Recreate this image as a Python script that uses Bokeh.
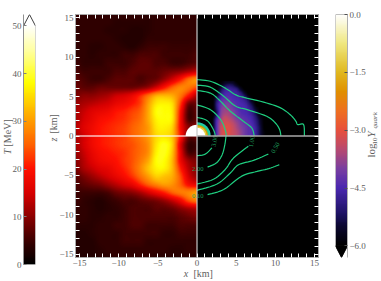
import numpy as np
from bokeh.plotting import figure
from bokeh.layouts import row
from bokeh.models import LinearAxis, FixedTicker, LinearColorMapper, Range1d
from bokeh.core.properties import value
from bokeh.embed import file_html
from bokeh.resources import INLINE

# temperature [MeV], rows y=15..-15, columns x=-15..0 (1 km step)
T_rows = [
 [4,4,4,4,4,4,4,4,4,3.5,4,4,4,4,4,4],
 [4,4,4,4,4,3.5,3.5,3.5,3.5,3.5,4,4,4,4,4,4],
 [4,4,4,4,3.5,3.5,3.5,3,3,3.5,4,4,4,4,4,4],
 [4,4,4,4,4,3.5,3,3,3,4,4,4,4,4,4,4.5],
 [4,4,3.5,3.5,4,4,3.5,3,4,5,5,5,4.5,4.5,4.5,5],
 [4,4,3.5,4,4,4,5,5,6,6,6,5,5,5,5,6],
 [5,4,4,4,5,5,5,6,7,7,6,6,5,5,6,7],
 [6,5,5,5,5,6,6,7,7,7,7,8,9,10,12,14],
 [7,6,5,5,6,7,7,7,6,7,8,11,15,20,26,29],
 [8,7,7,8,8,8,8,8,9,11,15,20,25,28,27,24],
 [9,10,10,11,12,14,15,17,21,26,31,32,31,27,20,13],
 [11,12,13,14,15,17,18,20,23,30,36,37,35,23,9,8],
 [12,14,16,17,18,20,21,23,25,31,38,38,36,20,6,7],
 [12,15,17,19,20,21,22,24,26,31,37,38,36,19,6,7],
 [13,16,18,20,21,22,23,25,27,30,36,37,34,19,10,10],
 [12,15,18,20,21,22,23,25,27,30,35,36,33,20,8,8],
 [12,15,18,20,21,22,23,24,26,29,36,39,34,16,5,5],
 [11,14,17,19,20,21,22,24,26,29,37,39,33,17,6,6],
 [10,13,16,18,19,20,22,24,27,31,38,38,32,18,11,9],
 [9,12,14,16,17,19,21,24,28,33,37,37,32,21,13,10],
 [7,9,11,13,15,17,19,22,26,30,34,33,31,24,15,11],
 [6,7,8,9,11,13,15,17,21,25,28,30,29,25,19,17],
 [5,5,5,5,6,8,9,10,12,15,18,21,25,27,28,30],
 [5,4,3.5,3,4,5,6,6,7,8,9,11,14,18,24,27],
 [4,4,3.5,3,3.5,4,5,6,6,6,7,7,8,10,12,13],
 [4,4,3.5,3.5,4,4,5,6,6,6,6,6,6,7,8,9],
 [3.5,3.5,3.5,4,4,5,5,6,6,5,5,5,5,6,6,6],
 [3,3,3.5,4,4,4,5,5,5,5,5,4,4,5,5,5],
 [3,3,3,4,4,4,5,5,5,4,4,4,4,4,4,4],
 [3,3,3,3.5,4,4,4,4,4,4,4,4,3.5,3.5,4,4],
 [3,3,3,3.5,3.5,4,4,4,4,4,3.5,3.5,3.5,3.5,3.5,3.5],
]
# log10 Y_quark, rows y=7..0 (0.5 km), columns x=2..9.5 (0.5 km)
Y_rows = [
 [-6,-6,-6,-5.8,-5.8,-5.8,-6,-6,-6,-6,-6,-6,-6,-6,-6,-6],
 [-6,-6,-5.8,-5.4,-5.2,-5.3,-5.7,-6,-6,-6,-6,-6,-6,-6,-6,-6],
 [-6,-6,-5.4,-4.8,-4.7,-4.8,-5.0,-5.6,-6,-6,-6,-6,-6,-6,-6,-6],
 [-6,-5.9,-5.0,-4.6,-4.5,-4.6,-4.7,-5.0,-5.6,-6,-6,-6,-6,-6,-6,-6],
 [-6,-5.5,-4.7,-4.4,-4.4,-4.5,-4.6,-4.7,-5.1,-5.7,-6,-6,-6,-6,-6,-6],
 [-6,-5.1,-4.4,-4.2,-4.2,-4.4,-4.5,-4.6,-4.8,-5.2,-5.8,-6,-6,-6,-6,-6],
 [-6,-4.9,-4.2,-4.0,-4.0,-4.2,-4.4,-4.5,-4.6,-4.9,-5.4,-6,-6,-6,-6,-6],
 [-6,-5,-4.1,-3.8,-3.9,-4.1,-4.3,-4.5,-4.5,-4.7,-5.1,-5.7,-6,-6,-6,-6],
 [-6,-5.2,-4,-3.7,-3.7,-3.9,-4.2,-4.4,-4.5,-4.6,-4.9,-5.4,-6,-6,-6,-6],
 [-6,-4.9,-3.9,-3.5,-3.6,-3.8,-4.1,-4.3,-4.4,-4.5,-4.7,-5.2,-5.8,-6,-6,-6],
 [-5.7,-4.5,-3.7,-3.3,-3.4,-3.6,-3.9,-4.1,-4.3,-4.4,-4.6,-5,-5.6,-6,-6,-6],
 [-5.7,-4.4,-3.5,-3.2,-3.2,-3.4,-3.7,-4,-4.2,-4.3,-4.5,-4.9,-5.5,-6,-6,-6],
 [-5.7,-4.4,-3.4,-3.1,-3.1,-3.3,-3.6,-3.9,-4.1,-4.3,-4.4,-4.8,-5.4,-6,-6,-6],
 [-5.8,-4.4,-3.4,-3.1,-3.1,-3.3,-3.5,-3.8,-4.1,-4.3,-4.4,-4.8,-5.4,-5.9,-6,-6],
 [-5.8,-4.4,-3.4,-3.1,-3.1,-3.3,-3.5,-3.8,-4.1,-4.3,-4.4,-4.8,-5.4,-5.9,-6,-6],
]
T_stops = [0, 5, 10, 15, 20, 25, 30, 38, 44, 50]
T_cols = ["#000000", "#3c0000", "#8c0000", "#d80000", "#ff1000", "#ff6000", "#ff9c00", "#ffff00", "#ffff90", "#ffffff"]
Y_stops = [-6, -5.5, -5.2, -4.5, -4, -3.5, -3, -2.5, -2, -1.5, -0.75, 0]
Y_cols = ["#000000", "#0c0830", "#1c1260", "#4a28b0", "#7a3fa0", "#b84a70", "#e8503c", "#ee7020", "#e09000", "#e0b820", "#f0e880", "#ffffff"]

core_left_r = [1.45]
core_right_r = [1.75, 1.55, 1.4, 1.25, 1.05]
core_right_c = ["#22c8b0", "#20d080", "#e09000", "#e0d040", "#ffffff"]

c_010_up = ([0,1.7,3.4,4.9,6,8.5,10.6,11.9,12.6,12.85,13.6,13.7], [7.16,6.95,6.2,5.25,4.9,4.3,3.6,2.7,1.9,1.45,1.45,0])
c_050_up = ([0,1.7,3.4,4.9,6.4,8.9,10,10.55,10.7], [6.45,6.2,5.05,3.8,3.35,2.5,1.65,.8,0])
c_100_up = ([0,1.7,2.8,4.25,5.95,7,7.3], [5.8,5.45,4.6,3.15,1.85,1,0])
c_200_up = ([0,1.7,3,3.6,3.75], [3.95,3.35,2.1,.8,0])
c_300_up = ([0,1.3,2.1,2.35], [2.37,1.95,.8,0])
c_300_lo = ([0,1.06,1.9], [-2.5,-2.3,-1.5])
c_200_lo = ([1.35,2.5,3.2,3.55,3.7], [-3.95,-3.4,-2.4,-1.1,0])
c_100_lo = ([0,2.1,3.6,4.65,6.55], [-6.1,-5.5,-4.25,-2.8,-1.3])
c_050_lo = ([0,2.55,4.25,5.3,7.2,9.1], [-6.9,-6.1,-4.7,-3.65,-3.1,-2.3])
c_010_lo = ([1.35,3.4,5.7,7.65,9.15,10.5], [-7.45,-6.8,-5.1,-4.5,-4.15,-3.65])
contours = [c_010_up,c_050_up,c_100_up,c_200_up,c_300_up,c_300_lo,c_200_lo,c_100_lo,c_050_lo,c_010_lo]
clabels = ["3.00","1.00","0.50","2.00","0.10"]
clabel_x = [2.25,7.0,10.0,0.1,0.1]
clabel_y = [-0.65,-0.7,-1.5,-4.2,-7.65]
clabel_a = [80,80,60,0,0]

km_ticks = list(range(-15,16))
km_labels = [-15,-10,-5,0,5,10,15]
T_ticks = [0,10,20,30,40,50]
Y_ticks = [0.0,-1.5,-3.0,-4.5,-6.0]

FONT = "Liberation Serif"
TXT = "#5e5e5e"
FRAME = "#a8a8a8"

def palette(stops, cols, n=256):
    rgb = np.array([[int(c[i:i+2],16) for i in (1,3,5)] for c in cols], float)
    t = np.linspace(stops[0], stops[-1], n)
    out = np.stack([np.interp(t, stops, rgb[:,k]) for k in range(3)],1).round().astype(int)
    return ["#%02x%02x%02x" % tuple(v) for v in out]

def _cr(m, k):
    """Catmull-Rom display resampling along axis 0."""
    n = m.shape[0]
    pos = (np.arange((n-1)*k+1))/k
    i = np.clip(np.floor(pos).astype(int),0,n-2)
    t = (pos-i).reshape((-1,)+(1,)*(m.ndim-1))
    p0,p1,p2,p3 = m[np.clip(i-1,0,n-1)],m[i],m[i+1],m[np.clip(i+2,0,n-1)]
    return 0.5*(2*p1+(p2-p0)*t+(2*p0-5*p1+4*p2-p3)*t**2+(3*p1-p0-3*p2+p3)*t**3)

def render_smooth(a, k=8):
    return np.clip(_cr(_cr(a,k).T,k).T, a.min(), a.max())

def render_curve(xs, ys, k=6):
    pts = _cr(np.column_stack([xs,ys]).astype(float), k)
    return pts[:,0], pts[:,1]

T_map = LinearColorMapper(palette=palette(T_stops,T_cols), low=0, high=50)
Y_map = LinearColorMapper(palette=palette(Y_stops,Y_cols), low=-6, high=0)

def label(fig, dx, dy, text, size="9px", style="normal", angle=0, color=TXT, align="center", base="middle"):
    # dx, dy: pixels from the frame's lower left corner, turned into data units of the figure
    xr, yr = fig.x_range, fig.y_range
    x = xr.start + dx*(xr.end-xr.start)/fig.frame_width
    y = yr.start + dy*(yr.end-yr.start)/fig.frame_height
    fig.text(x=[x], y=[y], text=[text], level="overlay", text_font=value(FONT),
        text_font_size=size, text_font_style=style, text_color=color, angle=angle, angle_units="deg",
        text_align=align, text_baseline=base)

def style_axis(ax, ticks, overrides=None, tick_color="white", show=True, tick_in=4):
    ax.ticker = FixedTicker(ticks=ticks)
    ax.major_tick_in = tick_in
    ax.major_tick_out = 0
    ax.minor_tick_line_color = None
    ax.major_tick_line_color = tick_color
    ax.major_tick_line_width = 1
    ax.axis_line_color = FRAME
    ax.axis_line_width = 1
    ax.major_label_text_font = FONT
    ax.major_label_text_color = TXT
    ax.major_label_text_font_size = "9px" if show else "0px"
    ax.major_label_standoff = 2 if show else 0
    if overrides:
        ax.major_label_overrides = overrides

# ---------- main panel
km_over = {t: (str(t).replace("-", "\u2212") if t in km_labels else "") for t in km_ticks}
p = figure(frame_width=243, frame_height=243, output_backend="svg", toolbar_location=None,
           x_range=Range1d(-15.5,15.5), y_range=Range1d(-15.43,15.43),
           min_border_left=35, min_border_right=7, min_border_top=14, min_border_bottom=24,
           background_fill_color="black", border_fill_color="white", outline_line_color=FRAME)
p.grid.visible = False
style_axis(p.xaxis[0], km_ticks, km_over)
style_axis(p.yaxis[0], km_ticks, km_over)
p.add_layout(LinearAxis(), "above")
p.add_layout(LinearAxis(), "right")
style_axis(p.above[0], km_ticks, {t:"" for t in km_ticks}, show=False)
style_axis(p.right[0], km_ticks, {t:"" for t in km_ticks}, show=False)

T = np.flipud(np.array(T_rows, float))
p.image(image=[render_smooth(T)], x=-15.5, y=-15.5, dw=15.5, dh=31, color_mapper=T_map)
Y = np.flipud(np.array(Y_rows, float))
p.image(image=[render_smooth(Y)], x=2, y=0, dw=7.5, dh=7, color_mapper=Y_map)
p.wedge(x=[0], y=[0], radius=core_left_r, start_angle=90, end_angle=180, start_angle_units="deg", end_angle_units="deg", color="white", line_color=None)
for r, c in zip(core_right_r, core_right_c):
    p.wedge(x=[0], y=[0], radius=[r], start_angle=0, end_angle=90, start_angle_units="deg", end_angle_units="deg", color=c, line_color=None)
for xs, ys in contours:
    cx, cy = render_curve(xs, ys)
    p.line(cx, cy, line_color="#1fcf80", line_width=1.2)
p.text(clabel_x, clabel_y, text=clabels, angle=clabel_a, angle_units="deg", text_color="#1e9c5c",
       text_font=value(FONT), text_font_size="6.5px", text_align="center", text_baseline="middle")
p.line([-15.5,0],[0,0], line_color="white", line_alpha=0.75, line_width=1.5)
p.line([0,15.5],[0,0], line_color="#a8a8a8", line_width=1.5)
p.line([0,0],[-15.43,15.43], line_color="#c8c8c8", line_width=1.2)
label(p, 110.5, -16, "x", style="italic", size="10px")
label(p, 118, -16, "[km]", size="10px", align="left")
label(p, -22, 118, "z", style="italic", size="10px", angle=90)
label(p, -22, 124, "[km]", size="10px", angle=90, align="left")

# ---------- temperature colour bar
f1 = figure(frame_width=12, frame_height=250, output_backend="svg", toolbar_location=None,
            x_range=Range1d(0,1), y_range=Range1d(0,52.4),
            min_border_left=23, min_border_right=5, min_border_top=14, min_border_bottom=17,
            outline_line_color=None)
f1.grid.visible = False
f1.xaxis.visible = False
style_axis(f1.yaxis[0], T_ticks, {t:str(t) for t in T_ticks}, tick_color="#808080", tick_in=3)
f1.yaxis[0].axis_line_color = "#909090"
grad = np.linspace(0,50,256).reshape(256,1)
f1.image(image=[grad], x=0, y=0, dw=1, dh=50, color_mapper=T_map)
f1.line([0,0],[0,50], line_color="#909090")
f1.line([1,1],[0,50], line_color="#b0b0b0", line_width=1)
f1.line([0,1],[0,0], line_color="#808080")
f1.line([0,0.5,1],[50,52.4,50], line_color="#404040", line_width=1)
label(f1, -16, 110, "T", style="italic", size="10px", angle=90, align="left")
label(f1, -16, 118, "[MeV]", size="10px", angle=90, align="left")

# ---------- quark colour bar
f2 = figure(frame_width=12, frame_height=243, output_backend="svg", toolbar_location=None,
            x_range=Range1d(0,1), y_range=Range1d(-6.3,0),
            min_border_left=10, min_border_right=34, min_border_top=14, min_border_bottom=24,
            outline_line_color=None)
f2.grid.visible = False
f2.xaxis.visible = False
f2.yaxis.visible = False
ax2 = LinearAxis()
f2.add_layout(ax2, "right")
Y_over = {t: ("%.1f" % t).replace("-", "\u2212") for t in Y_ticks}
style_axis(ax2, Y_ticks, Y_over, tick_color="#505050", tick_in=3)
ax2.axis_line_color = "#b0b0b0"
grad2 = np.linspace(-6,0,256).reshape(256,1)
f2.image(image=[grad2], x=0, y=-6, dw=1, dh=6, color_mapper=Y_map)
f2.line([0,0],[-6,0], line_color="#a0a0a0")
f2.line([1,1],[-6,0], line_color="#c0c0c0")
f2.line([0,1],[0,0], line_color="#808080")
f2.patch([0,0.5,1],[-6,-6.3,-6], color="black")
label(f2, 35, 100, "log", size="11px", angle=90, align="left")
label(f2, 39, 113, "10", size="7px", angle=90, align="left")
label(f2, 35, 120, "Y", style="italic", size="11px", angle=90, align="left")
label(f2, 39, 129, "quark", style="italic", size="7px", angle=90, align="left")

lay = row(f1, p, f2)
open("out.html", "w").write(file_html(lay, INLINE))
